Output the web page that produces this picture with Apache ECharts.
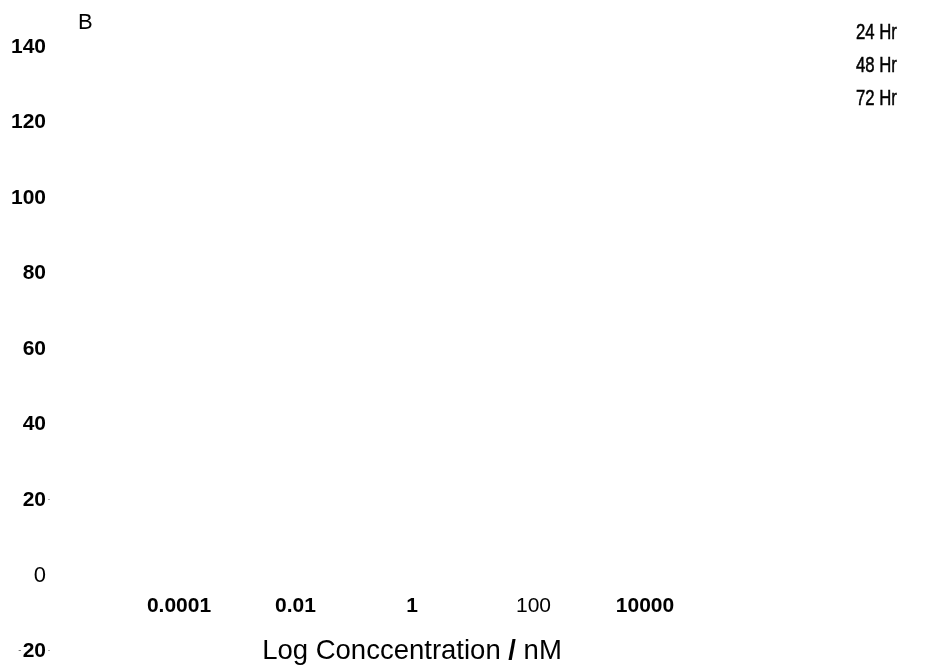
<!DOCTYPE html>
<html>
<head>
<meta charset="utf-8">
<script src="https://cdn.jsdelivr.net/npm/echarts@6/dist/echarts.min.js"></script>
<style>
  html, body { margin: 0; padding: 0; background: #fff; }
  #chart { width: 927px; height: 669px; }
</style>
</head>
<body>
<div id="chart"></div>
<script>
// Cell viability vs. concentration, panel B
const seriesNames = ['24 Hr', '48 Hr', '72 Hr'];
const viability24 = [];
const viability48 = [];
const viability72 = [];

const xTickValues = [0.0001, 0.01, 1, 100, 10000];
const xTickText = ['0.0001', '0.01', '1', '100', '10000'];
const yTickValues = [-20, 0, 20, 40, 60, 80, 100, 120, 140];

const FONT = '"Liberation Sans", Arial, sans-serif';

function xLabel(v) {
  const lv = Math.log10(v);
  for (let i = 0; i < xTickValues.length; i++) {
    if (Math.abs(lv - Math.log10(xTickValues[i])) < 0.01) {
      const t = xTickText[i];
      return t === '100' ? '{r|' + t + '}' : '{b|' + t + '}';
    }
  }
  return '';
}

// y labels carry a fixed-width trailing slot so the dotted ones line up
function yLabel(v) {
  if (yTickValues.indexOf(v) < 0) return '';
  if (v === 0) return '{z|0}{p|}';
  if (v === 20) return '{b|20}{t|·}';
  if (v === -20) return '{t|-}{b|20}{t|·}';
  return '{b|' + v + '}{p|}';
}

const labelRich = {
  b: { fontFamily: FONT, fontWeight: 'bold', fontSize: 21, color: '#000' },
  r: { fontFamily: FONT, fontWeight: 'normal', fontSize: 21, color: '#000', padding: [0, 0, 0, 10] },
  z: { fontFamily: FONT, fontWeight: 'normal', fontSize: 22, color: '#000' },
  t: { fontFamily: FONT, fontSize: 9, color: '#444', width: 6, align: 'center' },
  p: { width: 6 }
};

// condensed series key in the top-right corner
const keyItems = seriesNames.map(function (name, i) {
  return {
    type: 'text',
    x: 856,
    y: 33 + i * 33,
    scaleX: 0.76,
    style: {
      text: name,
      font: '22px "Liberation Sans", Arial, sans-serif',
      fill: '#000',
      stroke: '#000',
      lineWidth: 0.5,
      verticalAlign: 'middle',
      textVerticalAlign: 'middle'
    }
  };
});

const chart = echarts.init(document.getElementById('chart'), null, { renderer: 'canvas' });

chart.setOption({
  animation: false,
  backgroundColor: '#fff',
  title: {
    text: 'B',
    left: 73,
    top: 7,
    textStyle: { fontFamily: FONT, fontWeight: 'normal', fontSize: 22, color: '#000' }
  },
  graphic: keyItems,
  grid: {
    left: 62.5, right: 165.5, top: 47, bottom: 18,
    containLabel: false,
    outerBoundsMode: 'none'
  },
  xAxis: {
    type: 'log',
    logBase: 100,
    min: 1e-6,
    max: 1e6,
    offset: -75.5,
    axisLine: { show: false, onZero: false },
    axisTick: { show: false },
    splitLine: { show: false },
    axisLabel: {
      formatter: xLabel,
      rich: labelRich,
      verticalAlign: 'middle',
      margin: 31,
      showMinLabel: false,
      showMaxLabel: false
    },
    name: 'Log Conccentration {s|/} nM',
    nameLocation: 'middle',
    nameGap: 75.5,
    nameTextStyle: {
      fontFamily: FONT,
      fontSize: 27.5,
      color: '#000',
      verticalAlign: 'middle',
      rich: {
        s: { fontFamily: FONT, fontSize: 27.5, fontWeight: 'bold', color: '#000' }
      }
    }
  },
  yAxis: {
    type: 'value',
    min: -20,
    max: 140,
    interval: 20,
    axisLine: { show: false },
    axisTick: { show: false },
    splitLine: { show: false },
    axisLabel: {
      formatter: yLabel,
      rich: labelRich,
      margin: 10.5
    }
  },
  series: [
    { name: seriesNames[0], type: 'line', data: viability24, symbol: 'none', lineStyle: { color: '#000' }, itemStyle: { color: '#000' } },
    { name: seriesNames[1], type: 'line', data: viability48, symbol: 'none', lineStyle: { color: '#000' }, itemStyle: { color: '#000' } },
    { name: seriesNames[2], type: 'line', data: viability72, symbol: 'none', lineStyle: { color: '#000' }, itemStyle: { color: '#000' } }
  ]
});
</script>
</body>
</html>
